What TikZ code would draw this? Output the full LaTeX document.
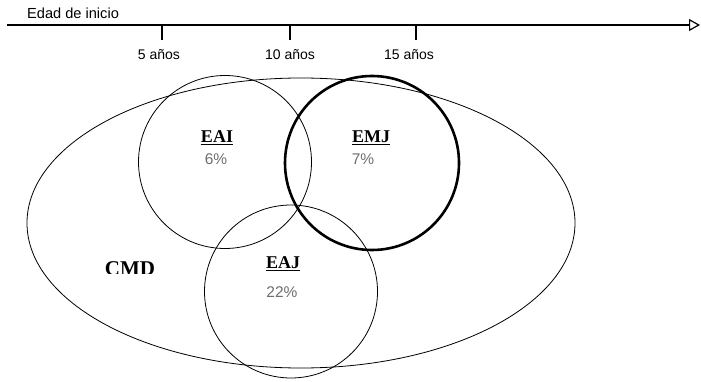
\documentclass[tikz,border=0pt]{standalone}
\usepackage{fontspec}
\setmainfont{Liberation Sans}
\newfontfamily\serifbf{Liberation Serif}
\usetikzlibrary{arrows.meta}
\definecolor{pctgrey}{RGB}{110,110,110}
\tikzset{
  setcircle/.style={circle, draw, line width=0.8pt, minimum size=#1, inner sep=0pt},
  axislbl/.style={font=\fontsize{14}{16}\selectfont, inner sep=0pt},
  setname/.style={font=\serifbf\bfseries\fontsize{18}{20}\selectfont, inner sep=0pt},
  pct/.style={font=\fontsize{15.5}{17}\selectfont, text=pctgrey, inner sep=0pt},
  tick/.style={line width=1.8pt},
}
\begin{document}
\begin{tikzpicture}[x=1pt,y=-1pt]
\useasboundingbox (0,0) rectangle (701,382);
% axis
\node[axislbl, font=\fontsize{14.6}{16}\selectfont, anchor=west] (title) at (27,13) {Edad de inicio};
\coordinate (a0) at (7,25);
\coordinate (a1) at (700,25);
\draw[line width=1.8pt, -{Triangle[open, length=11pt, width=12pt, line width=1.2pt]}] (a0) -- (a1);
\coordinate (t1) at (162,25); \coordinate (t1b) at (162,40);
\coordinate (t2) at (290,25); \coordinate (t2b) at (290,40);
\coordinate (t3) at (416,25); \coordinate (t3b) at (416,40);
\draw[tick] (t1) -- (t1b);
\draw[tick] (t2) -- (t2b);
\draw[tick] (t3) -- (t3b);
\node[axislbl] (l1) at (159,55) {5 años};
\node[axislbl] (l2) at (290,55) {10 años};
\node[axislbl] (l3) at (409,55) {15 años};
% big ellipse
\coordinate (ec) at (301,223);
\draw[line width=0.8pt] (ec) ellipse [x radius=274pt, y radius=145pt];
% circles
\node[setcircle=173pt] (eai) at (225,162) {};
\node[setcircle=174pt, line width=2.6pt] (emj) at (372,163) {};
\node[setcircle=173pt] (eaj) at (291,291.5) {};
% labels
\node[setname] (neai) at (217,138) {\underline{EAI}};
\node[pct] (peai) at (216,159) {6\%};
\node[setname] (nemj) at (371,138) {\underline{EMJ}};
\node[pct] (pemj) at (363,159) {7\%};
\node[setname] (neaj) at (283,264) {\underline{EAJ}};
\node[pct] (peaj) at (282,292) {22\%};
\begin{scope}
\clip (90,250) rectangle (175,273);
\node[setname, font=\serifbf\bfseries\fontsize{21}{23}\selectfont, anchor=north] (cmd) at (130,261) {CMD};
\end{scope}
\end{tikzpicture}
\end{document}
